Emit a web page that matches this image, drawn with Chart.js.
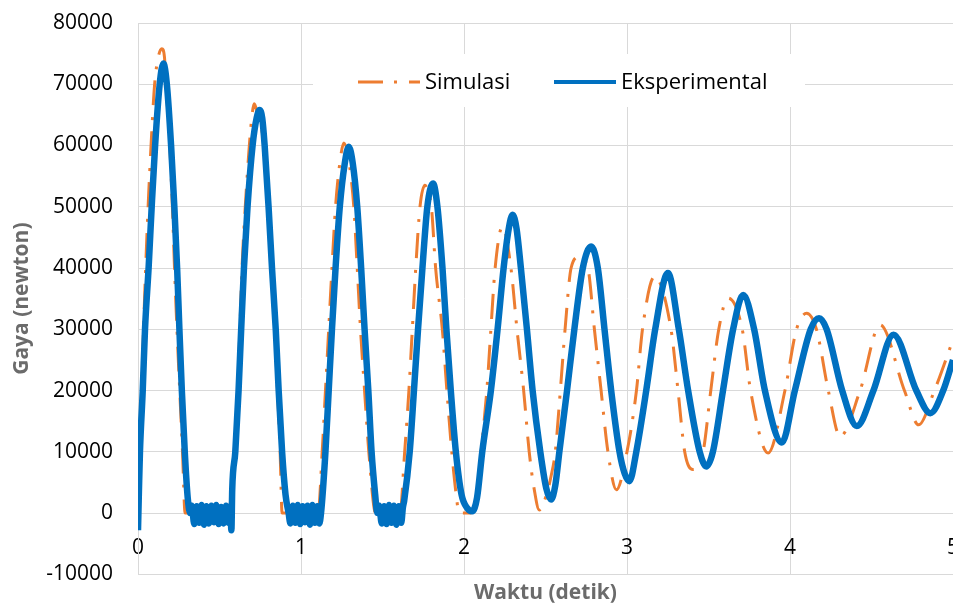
<!DOCTYPE html>
<html>
<head>
<meta charset="utf-8">
<script src="https://cdn.jsdelivr.net/npm/chart.js@4/dist/chart.umd.min.js"></script>
<style>
  body { margin: 0; background: #fff; }
  canvas { display: block; }
</style>
</head>
<body>
<canvas id="gayaChart" width="953" height="608"></canvas>
<script>
// sumbu dan label
const seriesNames = ['Simulasi', 'Eksperimental'];
const xTitle = 'Waktu (detik)';
const yTitle = 'Gaya (newton)';
const xTicks = [0, 1, 2, 3, 4, 5];
const yTicks = [-10000, 0, 10000, 20000, 30000, 40000, 50000, 60000, 70000, 80000];

// simulasi (garis putus-putus oranye)
const simTime = [
  0, 0.012, 0.023, 0.034, 0.047, 0.062, 0.08, 0.102, 0.125, 0.146, 0.162, 0.172, 0.195, 0.211, 0.224, 0.239, 0.256, 0.273, 0.289,
  0.555, 0.59, 0.611, 0.625, 0.638, 0.658, 0.683, 0.70, 0.713, 0.73, 0.772, 0.796, 0.817, 0.838, 0.856, 0.872, 0.884,
  1.105, 1.13, 1.15, 1.17, 1.19, 1.212, 1.24, 1.263, 1.29, 1.324, 1.345, 1.365, 1.39, 1.416, 1.458,
  1.607, 1.636, 1.662, 1.683, 1.704, 1.73, 1.76, 1.785, 1.80, 1.826, 1.867, 1.895, 1.925, 1.952, 1.97,
  2.04, 2.085, 2.105, 2.14, 2.165, 2.191, 2.236, 2.288, 2.325, 2.366, 2.40, 2.43, 2.462, 2.50, 2.534, 2.56, 2.591, 2.62, 2.657, 2.705,
  2.76, 2.80, 2.841, 2.883, 2.935, 3.0, 3.058, 3.095, 3.169, 3.27, 3.313, 3.354, 3.405, 3.467, 3.514, 3.563, 3.62,
  3.707, 3.758, 3.866, 3.969, 4.04, 4.102, 4.162, 4.235, 4.307, 4.43, 4.553, 4.702, 4.789, 4.886, 5.0
];
const simForce = [
  0, 10000, 20000, 30000, 40000, 50000, 60000, 70000, 74500, 75800, 74500, 70000, 60000, 50000, 40000, 30000, 20000, 10000, 0,
  0, 10000, 20000, 30000, 40000, 50000, 60000, 65000, 66800, 65500, 60000, 50000, 40000, 30000, 20000, 10000, 0,
  0, 10000, 20000, 30000, 40000, 50000, 57500, 60400, 58000, 50000, 40000, 30000, 20000, 10000, 0,
  0, 10000, 20000, 30000, 40000, 50000, 53500, 52000, 50000, 40000, 30000, 20000, 10000, 3000, 0,
  0, 4200, 10000, 20000, 30000, 40000, 46800, 40000, 30000, 20000, 10000, 4000, 500, 2500, 6000, 10000, 20000, 30000, 40000, 41800,
  40000, 30000, 20000, 10000, 3800, 10000, 20000, 30000, 38600, 30000, 20000, 10000, 7100, 10000, 20000, 30000, 35100,
  30000, 20000, 9800, 20000, 30000, 32600, 30000, 20000, 12500, 20000, 30700, 20000, 14400, 20000, 28300
];

// eksperimen (garis biru tebal, bagian datar bergetar)
const expTime = [
  0, 0.006, 0.012, 0.029, 0.043, 0.065, 0.084, 0.105, 0.133, 0.156, 0.177, 0.203, 0.223, 0.240, 0.254, 0.269, 0.287, 0.305, 0.32,
  0.33, 0.345, 0.36, 0.375, 0.39, 0.405, 0.42, 0.435, 0.45, 0.465, 0.48, 0.495, 0.51, 0.525, 0.54, 0.555, 0.566, 0.573, 0.578,
  0.597, 0.617, 0.633, 0.65, 0.672, 0.703, 0.728, 0.746, 0.762, 0.777, 0.801, 0.822, 0.845, 0.863, 0.884, 0.905, 0.924,
  0.935, 0.95, 0.965, 0.98, 0.995, 1.01, 1.025, 1.04, 1.055, 1.07, 1.085, 1.10, 1.112, 1.123,
  1.15, 1.17, 1.19, 1.212, 1.238, 1.268, 1.293, 1.318, 1.345, 1.369, 1.39, 1.413, 1.433, 1.455, 1.468,
  1.48, 1.495, 1.51, 1.525, 1.54, 1.555, 1.57, 1.585, 1.60, 1.615, 1.625, 1.633,
  1.667, 1.693, 1.718, 1.745, 1.775, 1.81, 1.837, 1.868, 1.892, 1.919, 1.95, 1.985, 2.02, 2.05, 2.08,
  2.112, 2.165, 2.206, 2.243, 2.275, 2.298, 2.322, 2.349, 2.386, 2.421, 2.468, 2.505, 2.534, 2.56,
  2.585, 2.632, 2.677, 2.729, 2.78, 2.821, 2.862, 2.903, 2.954, 2.985, 3.015,
  3.057, 3.118, 3.173, 3.251, 3.318, 3.375, 3.446, 3.487, 3.527, 3.589, 3.651, 3.713, 3.78, 3.846, 3.95,
  4.03, 4.127, 4.178, 4.225, 4.32, 4.41, 4.512, 4.635, 4.775, 4.861, 4.94, 5.0
];
const expForce = [
  -2800, 4000, 10000, 20000, 30000, 40000, 50000, 60000, 70000, 73400, 70000, 60000, 50000, 40000, 30000, 20000, 10000, 2500, 0,
  1200, -1800, 1100, -1600, 1300, -1900, 1100, -1700, 1200, -1500, 1300, -1800, 1000, -1700, 1200, -1600, 1100, -2800, 3800,
  10000, 20000, 30000, 40000, 50000, 60000, 64500, 65800, 64500, 60000, 50000, 40000, 30000, 20000, 10000, 3000, 0,
  -1700, 1200, -1600, 1300, -1800, 1100, -1500, 1200, -1900, 1300, -1600, 1100, -1700, 0,
  10000, 20000, 30000, 40000, 50000, 57000, 59800, 57000, 50000, 40000, 30000, 20000, 10000, 3000, 0,
  1200, -1700, 1100, -1800, 1300, -1600, 1200, -1900, 1100, -1600, 900, 2000,
  10000, 20000, 30000, 40000, 50000, 53800, 50000, 40000, 30000, 20000, 10000, 3000, 800, 300, 2500,
  10000, 20000, 30000, 40000, 46500, 48700, 46500, 40000, 30000, 20000, 10000, 4000, 2200, 4500,
  10000, 20000, 30000, 40000, 43500, 40000, 30000, 20000, 10000, 6500, 5200,
  10000, 20000, 30000, 39200, 30000, 20000, 10000, 7600, 10000, 20000, 30000, 35600, 30000, 20000, 11500,
  20000, 30000, 31800, 30000, 20000, 14200, 20000, 29100, 20000, 16300, 20000, 25000
];

const toPoints = (times, forces) => times.map((t, i) => ({ x: t, y: forces[i] }));

Chart.defaults.font.family = "'Open Sans', sans-serif";

const tickFont = { size: 21 };
const titleFont = { size: 21, weight: 'bold' };
const gridColor = '#d9d9d9';

// kotak legenda putih di dalam area grafik
const legendBox = {
  id: 'legendBox',
  afterDatasetsDraw(chart) {
    const c = chart.ctx;
    const ds = chart.data.datasets;
    const items = [
      { set: ds[0], x1: 358, x2: 420, tx: 425 },
      { set: ds[1], x1: 554, x2: 616, tx: 621 }
    ];
    c.save();
    c.fillStyle = '#fff';
    c.fillRect(313, 54, 492, 53);
    items.forEach(it => {
      c.beginPath();
      c.strokeStyle = it.set.borderColor;
      c.lineWidth = it.set.borderDash ? 3 : 4;
      c.setLineDash(it.set.borderDash || []);
      c.moveTo(it.x1, 82);
      c.lineTo(it.x2, 82);
      c.stroke();
      c.setLineDash([]);
      c.fillStyle = '#000';
      c.font = "22px 'Open Sans', sans-serif";
      c.textBaseline = 'middle';
      c.fillText(it.set.label, it.tx, 83);
    });
    c.restore();
  }
};

const ctx = document.getElementById('gayaChart').getContext('2d');
new Chart(ctx, {
  type: 'line',
  data: {
    datasets: [{
      label: seriesNames[0],
      data: toPoints(simTime, simForce),
      borderColor: '#ED7D31',
      borderWidth: 3,
      borderDash: [25, 11, 3, 12],
      pointRadius: 0,
      cubicInterpolationMode: 'monotone',
      xAxisID: 'x',
      order: 2
    }, {
      label: seriesNames[1],
      data: toPoints(expTime, expForce),
      borderColor: '#0070C0',
      borderWidth: 6.5,
      pointRadius: 0,
      cubicInterpolationMode: 'monotone',
      xAxisID: 'x',
      order: 1
    }]
  },
  options: {
    responsive: false,
    animation: false,
    layout: { padding: { top: 23, right: 0, bottom: 0, left: 0 } },
    plugins: {
      legend: { display: false },
      tooltip: { enabled: false }
    },
    scales: {
      x: {
        type: 'linear',
        position: 'bottom',
        min: xTicks[0],
        max: xTicks[xTicks.length - 1],
        ticks: { display: false, stepSize: 1 },
        grid: { color: gridColor, drawTicks: false },
        border: { color: gridColor },
        title: { display: true, text: xTitle, font: titleFont, color: '#6b6b6b', padding: { top: 6, bottom: 2.5 } }
      },
      // label sumbu x ditaruh di garis nol
      xLabels: {
        type: 'linear',
        axis: 'x',
        position: { y: 0 },
        min: xTicks[0],
        max: xTicks[xTicks.length - 1],
        ticks: { stepSize: 1, padding: 22, font: tickFont, color: '#000', maxRotation: 0 },
        grid: { display: false, drawTicks: false },
        border: { display: false },
        afterFit: scale => { scale.paddingLeft = 0; scale.paddingRight = 0; }
      },
      y: {
        min: yTicks[0],
        max: yTicks[yTicks.length - 1],
        ticks: {
          stepSize: yTicks[1] - yTicks[0],
          padding: 25,
          font: tickFont,
          color: '#000',
          callback: v => String(v)
        },
        grid: { color: gridColor, drawTicks: false },
        border: { color: gridColor },
        title: { display: true, text: yTitle, font: titleFont, color: '#6b6b6b', padding: { top: 9, bottom: 0 } },
        afterFit: scale => { scale.width = 138; scale.paddingTop = 0; scale.paddingBottom = 0; }
      }
    }
  },
  plugins: [legendBox]
});
</script>
</body>
</html>
